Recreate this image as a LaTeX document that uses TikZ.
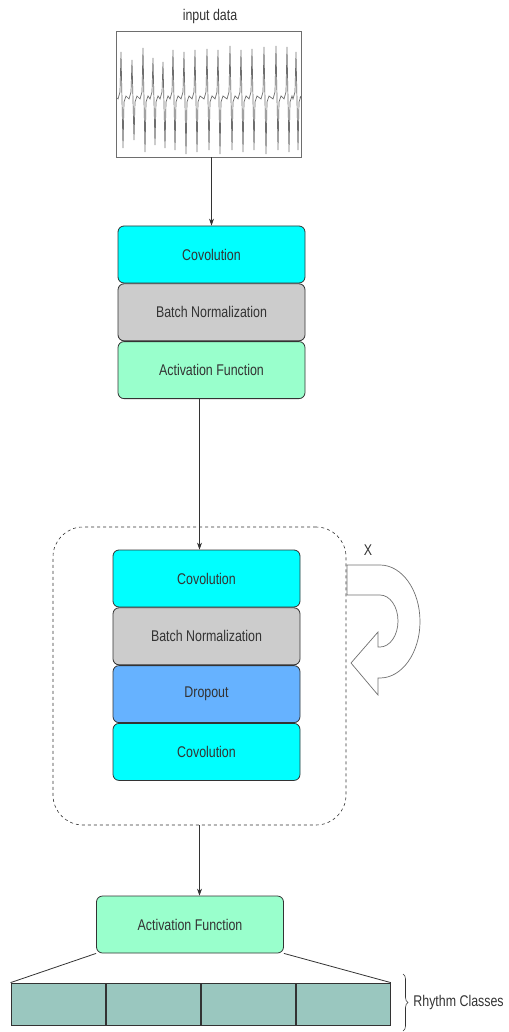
\documentclass[tikz,border=0pt]{standalone}
\usepackage{fontspec}
\setmainfont[FakeStretch=0.8]{Liberation Sans}
\usetikzlibrary{arrows.meta,positioning,decorations.pathreplacing}
\definecolor{ink}{HTML}{333333}
\definecolor{convcyan}{HTML}{00FFFF}
\definecolor{normgray}{HTML}{CCCCCC}
\definecolor{actmint}{HTML}{99FFCC}
\definecolor{dropblue}{HTML}{66B2FF}
\definecolor{classteal}{HTML}{9AC7BF}
\definecolor{wave}{HTML}{6E6E6E}

\begin{document}
\begin{tikzpicture}[
  x=1pt, y=-1pt,
  line width=0.8pt,
  label text/.style={font=\fontsize{15.5}{18}\selectfont, text=ink},
  layer/.style={draw=ink, rounded corners=6pt, minimum width=187pt,
    minimum height=57pt, inner sep=0pt, label text},
  cell/.style={draw=ink, fill=classteal, minimum width=94.25pt,
    minimum height=42pt, inner sep=0pt},
  flow/.style={draw=ink, -{Stealth[length=7pt,width=5pt]}}
]
  \useasboundingbox (0,0) rectangle (508,1032);

  % input signal
  \node[label text] (title) at (210,16) {input data};
  \node[draw=wave, minimum width=185pt, minimum height=126pt, inner sep=0pt] (sig) at (208.5,94) {};
  \draw[wave, line width=0.7pt] (117,98)
    \foreach \x/\t/\b in {121/52/148,132/60/140,143/48/152,153/58/145,163/62/148,
                          173/50/150,184/52/154,195/50/152,207/49/150,218/50/154,
                          230/46/150,241/50/152,252/49/150,264/47/154,276/46/150,
                          287/47/152,296/52/150}
      { -- (\x-3,99) -- (\x-1,92) -- (\x,\t) -- (\x+2,\b) -- (\x+3,102) -- (\x+5,96) }
    -- (300,98);

  % first block
  \node[layer, fill=convcyan] (conv1) at (211.5,254.5) {Covolution};
  \node[layer, fill=normgray, below=0pt of conv1] (norm1) {Batch Normalization};
  \node[layer, fill=actmint, below=0pt of norm1] (act1) {Activation Function};

  % repeated block
  \node[draw=ink, dashed, line width=0.6pt, rounded corners=30pt,
    minimum width=293pt, minimum height=298pt] (loop) at (199.5,676) {};
  \node[layer, fill=convcyan] (conv2) at (206.5,578.5) {Covolution};
  \node[layer, fill=normgray, below=0pt of conv2] (norm2) {Batch Normalization};
  \node[layer, fill=dropblue, below=0pt of norm2] (drop) {Dropout};
  \node[layer, fill=convcyan, below=0pt of drop] (conv3) {Covolution};

  % repeat marker
  \draw[draw=ink!70, line width=0.7pt, fill=white] (347,565) -- (380,565)
    arc[start angle=-90, end angle=90, x radius=40, y radius=56.5]
    -- (378,678) -- (378,695) -- (351,663) -- (378,632) -- (378,647) -- (380,647)
    arc[start angle=90, end angle=-90, x radius=18, y radius=26]
    -- (347,595) -- cycle;
  \node[label text] (times) at (368,550) {X};

  % output
  \node[layer, fill=actmint] (act2) at (190,924.5) {Activation Function};
  \node[cell] (cls1) at (58.125,1004) {};
  \node[cell, right=0pt of cls1] (cls2) {};
  \node[cell, right=0pt of cls2] (cls3) {};
  \node[cell, right=0pt of cls3] (cls4) {};

  \draw[flow] (sig.south -| conv1.north) -- (conv1.north);
  \draw[flow] (act1.south -| loop.north) -- (conv2.north -| loop.north);
  \draw[flow] (loop.south) -- (act2.north -| loop.south);
  \draw[ink] (act2.south west) -- (cls1.north west);
  \draw[ink] (act2.south east) -- (cls4.north east);

  \draw[ink, line width=0.6pt, decorate, decoration={brace, amplitude=5pt}]
    (403,974) -- (403,1031);
  \node[anchor=west, label text, inner sep=1pt] (classes) at (412,1002) {Rhythm Classes};
\end{tikzpicture}
\end{document}
